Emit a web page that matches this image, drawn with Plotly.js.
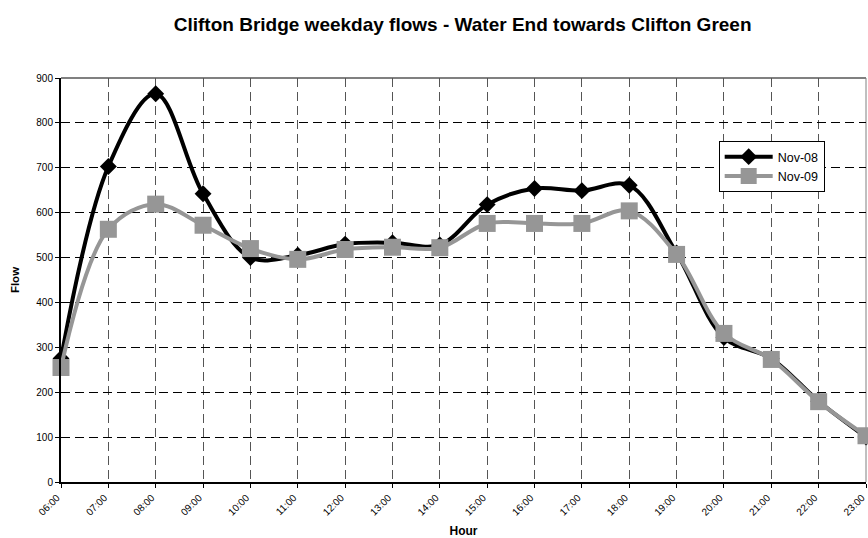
<!DOCTYPE html>
<html>
<head>
<meta charset="utf-8">
<script src="https://cdn.plot.ly/plotly-3.0.1.min.js"></script>
<style>html,body{margin:0;padding:0;background:#fff;}#chart{width:868px;height:538px;}</style>
</head>
<body>
<div id="chart"></div>
<script>
var hours = ["06:00","07:00","08:00","09:00","10:00","11:00","12:00","13:00","14:00","15:00","16:00","17:00","18:00","19:00","20:00","21:00","22:00","23:00"];
var nov08 = [275, 703, 865, 642, 500, 505, 530, 533, 528, 618, 654, 649, 661, 510, 322, 275, 180, 100];
var nov09 = [255, 563, 619, 572, 520, 496, 518, 523, 522, 576, 576, 576, 604, 507, 331, 273, 179, 103];
var yTicks = [0,100,200,300,400,500,600,700,800,900];

var FONT = "Liberation Sans, Arial, sans-serif";

var traces = [
  {
    x: hours, y: nov08, name: "Nov-08", type: "scatter", mode: "lines+markers",
    line: {color: "#000000", width: 4, shape: "spline", smoothing: 1},
    marker: {symbol: "diamond", size: 13, color: "#000000"},
    cliponaxis: false
  },
  {
    x: hours, y: nov09, name: "Nov-09", type: "scatter", mode: "lines+markers",
    line: {color: "#969696", width: 4, shape: "spline", smoothing: 1},
    marker: {symbol: "square", size: 17, color: "#969696"},
    cliponaxis: false
  }
];

var layout = {
  width: 868, height: 538,
  margin: {l: 61, r: 2, t: 78, b: 56},
  paper_bgcolor: "#ffffff", plot_bgcolor: "#ffffff",
  font: {family: FONT, color: "#000000"},
  title: {
    text: "<b>Clifton Bridge weekday flows - Water End towards Clifton Green</b>",
    font: {family: FONT, size: 19, color: "#000000"},
    x: 0.533, xanchor: "center", y: 0.955, yanchor: "middle"
  },
  showlegend: true,
  legend: {
    x: 0.817, xanchor: "left", y: 0.844, yanchor: "top",
    bgcolor: "#ffffff", bordercolor: "#000000", borderwidth: 1,
    font: {family: FONT, size: 12.5, color: "#000000"},
    itemwidth: 48, tracegroupgap: 0
  },
  xaxis: {
    type: "category",
    categoryorder: "array", categoryarray: hours,
    range: [0, hours.length - 1],
    tickvals: hours, ticktext: hours,
    tickangle: -45,
    tickfont: {family: FONT, size: 10, color: "#000000"},
    ticklabelshift: -4,
    ticks: "outside", ticklen: 4, tickcolor: "#000000", tickwidth: 1,
    showline: true, linecolor: "#000000", linewidth: 2,
    showgrid: true, gridcolor: "#555555", gridwidth: 1, griddash: "9px,5px",
    zeroline: false, fixedrange: true,
    title: {text: "<b>Hour</b>", font: {family: FONT, size: 12, color: "#000000"}, standoff: 10}
  },
  yaxis: {
    range: [0, 900],
    tickvals: yTicks,
    tickfont: {family: FONT, size: 10, color: "#000000"},
    ticks: "outside", ticklen: 4, tickcolor: "#000000", tickwidth: 1,
    showline: true, linecolor: "#000000", linewidth: 2,
    showgrid: true, gridcolor: "#000000", gridwidth: 1, griddash: "9px,5px",
    zeroline: false, fixedrange: true,
    title: {text: "<b>Flow</b>", font: {family: FONT, size: 11.5, color: "#000000"}, standoff: 14}
  },
  shapes: [
    {type: "line", xref: "paper", yref: "paper", x0: 0, x1: 1, y0: 1, y1: 1, line: {color: "#808080", width: 2}, layer: "below"},
    {type: "line", xref: "paper", yref: "paper", x0: 1, x1: 1, y0: 0, y1: 1, line: {color: "#808080", width: 1}, layer: "below"}
  ]
};

Plotly.newPlot("chart", traces, layout, {displayModeBar: false, staticPlot: true});
</script>
</body>
</html>
